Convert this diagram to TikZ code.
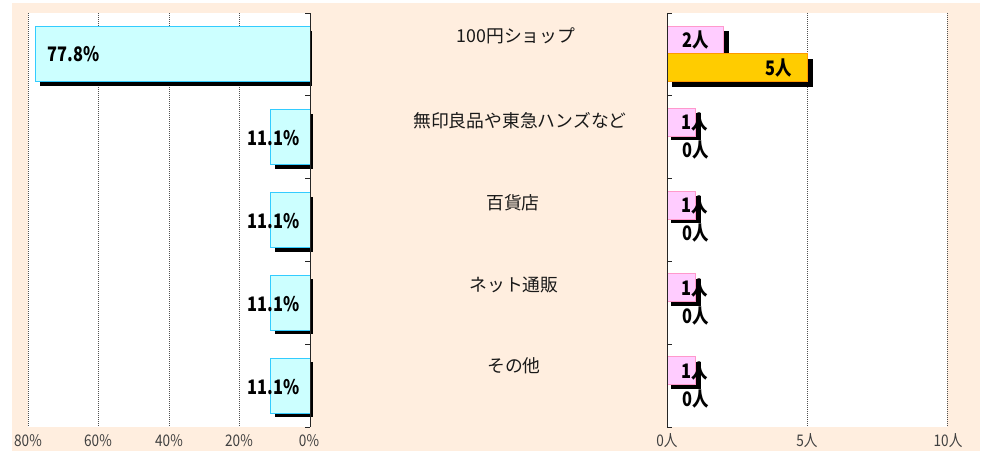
\documentclass[tikz,border=0pt]{standalone}
\usepackage{fontspec}
\setmainfont{Noto Sans CJK JP}
\newfontfamily\valfont[FakeStretch=0.82]{Noto Sans CJK JP}
\newfontfamily\axfont[FakeStretch=0.85]{Noto Sans CJK JP}
\definecolor{peach}{HTML}{FFEEDF}
\definecolor{cyanfill}{HTML}{CCFFFF}
\definecolor{cyanline}{HTML}{33CCFF}
\definecolor{pinkfill}{HTML}{FFCCFF}
\definecolor{pinkline}{HTML}{FF99CC}
\definecolor{orafill}{HTML}{FFCC00}
\definecolor{oraline}{HTML}{FF9900}
\definecolor{gridc}{HTML}{505050}
\tikzset{
  gridln/.style={gridc, line width=1pt, dash pattern=on 1pt off 1pt},
  axisln/.style={black!85, line width=1pt},
  shadow/.style={fill=black},
  cyanbar/.style={fill=cyanfill, draw=cyanline, line width=1pt},
  pinkbar/.style={fill=pinkfill, draw=pinkline, line width=1pt},
  orabar/.style={fill=orafill, draw=oraline, line width=1pt},
  vallbl/.style={inner sep=0pt, font=\valfont\bfseries\fontsize{20}{20}\selectfont, text=black},
  catlbl/.style={inner sep=0pt, font=\fontsize{17.8}{17.8}\selectfont, text=black!90},
  axlbl/.style={inner sep=0pt, font=\axfont\fontsize{16}{16}\selectfont, text=black!75},
}
\begin{document}
\begin{tikzpicture}[x=1pt,y=-1pt]
\useasboundingbox (0,0) rectangle (989,451);
\fill[peach] (12,3) rectangle (980,451);
% plot areas
\fill[white] (28,13) rectangle (310,427);
\fill[white] (667,13) rectangle (947,427);
% gridlines
\foreach \gx in {28,98,169,239} \draw[gridln] (\gx,13) -- (\gx,427);
\foreach \gx in {807,947} \draw[gridln] (\gx,13) -- (\gx,427);
% left bars
\fill[shadow] (39.8,31.4) rectangle (312,86.4);
\draw[cyanbar] (35.8,26.9) rectangle (310,81.9);
\node[vallbl] (v1) at (73.5,54.4) {77.8\%};
\foreach \c/\nm in {137.2/b, 220/c, 302.8/d, 385.6/e}{
  \fill[shadow] (274.9,\c-23.5) rectangle (312.5,\c+31.5);
  \draw[cyanbar] (270.9,\c-27.5) rectangle (310,\c+27.5);
  \node[vallbl] (v\nm) at (273.5,\c+1) {11.1\%};
}
% left axis
\draw[axisln] (310,13) -- (310,427);
\foreach \ty in {13,95.8,178.6,261.4,344.2,427} \draw[axisln] (305,\ty) -- (310,\ty);
% right bars category 1
\fill[shadow] (672,31.4) rectangle (728.5,59.4);
\fill[shadow] (672,59.4) rectangle (812.5,87.4);
\draw[pinkbar] (667,26.4) rectangle (723,53.4);
\draw[orabar] (667,53.4) rectangle (807,81.9);
\node[vallbl] (r1a) at (695.5,40) {2人};
\node[vallbl] (r1b) at (779,68.5) {5人};
\foreach \c/\nm in {137.2/b, 220/c, 302.8/d, 385.6/e}{
  \fill[shadow] (671,\c-24) rectangle (700.5,\c+3);
  \draw[pinkbar] (667,\c-29) rectangle (695,\c-1);
  \node[vallbl] (r\nm a) at (695,\c-15) {1人};
  \node[vallbl] (r\nm b) at (695.5,\c+13) {0人};
}
% right axis
\draw[axisln] (667,13) -- (667,427);
\foreach \ty in {13,95.8,178.6,261.4,344.2,427} \draw[axisln] (667,\ty) -- (672,\ty);
% category labels
\node[catlbl] (k1) at (516,36) {100円ショップ};
\node[catlbl] (k2) at (520,121) {無印良品や東急ハンズなど};
\node[catlbl] (k3) at (513,203) {百貨店};
\node[catlbl] (k4) at (514,285) {ネット通販};
\node[catlbl] (k5) at (514,366) {その他};
% axis labels
\node[axlbl] (a1) at (28,441) {80\%};
\node[axlbl] (a2) at (98,441) {60\%};
\node[axlbl] (a3) at (169,441) {40\%};
\node[axlbl] (a4) at (239,441) {20\%};
\node[axlbl] (a5) at (309,441) {0\%};
\node[axlbl] (b1) at (667,441) {0人};
\node[axlbl] (b2) at (807,441) {5人};
\node[axlbl] (b3) at (948,441) {10人};
\end{tikzpicture}
\end{document}
